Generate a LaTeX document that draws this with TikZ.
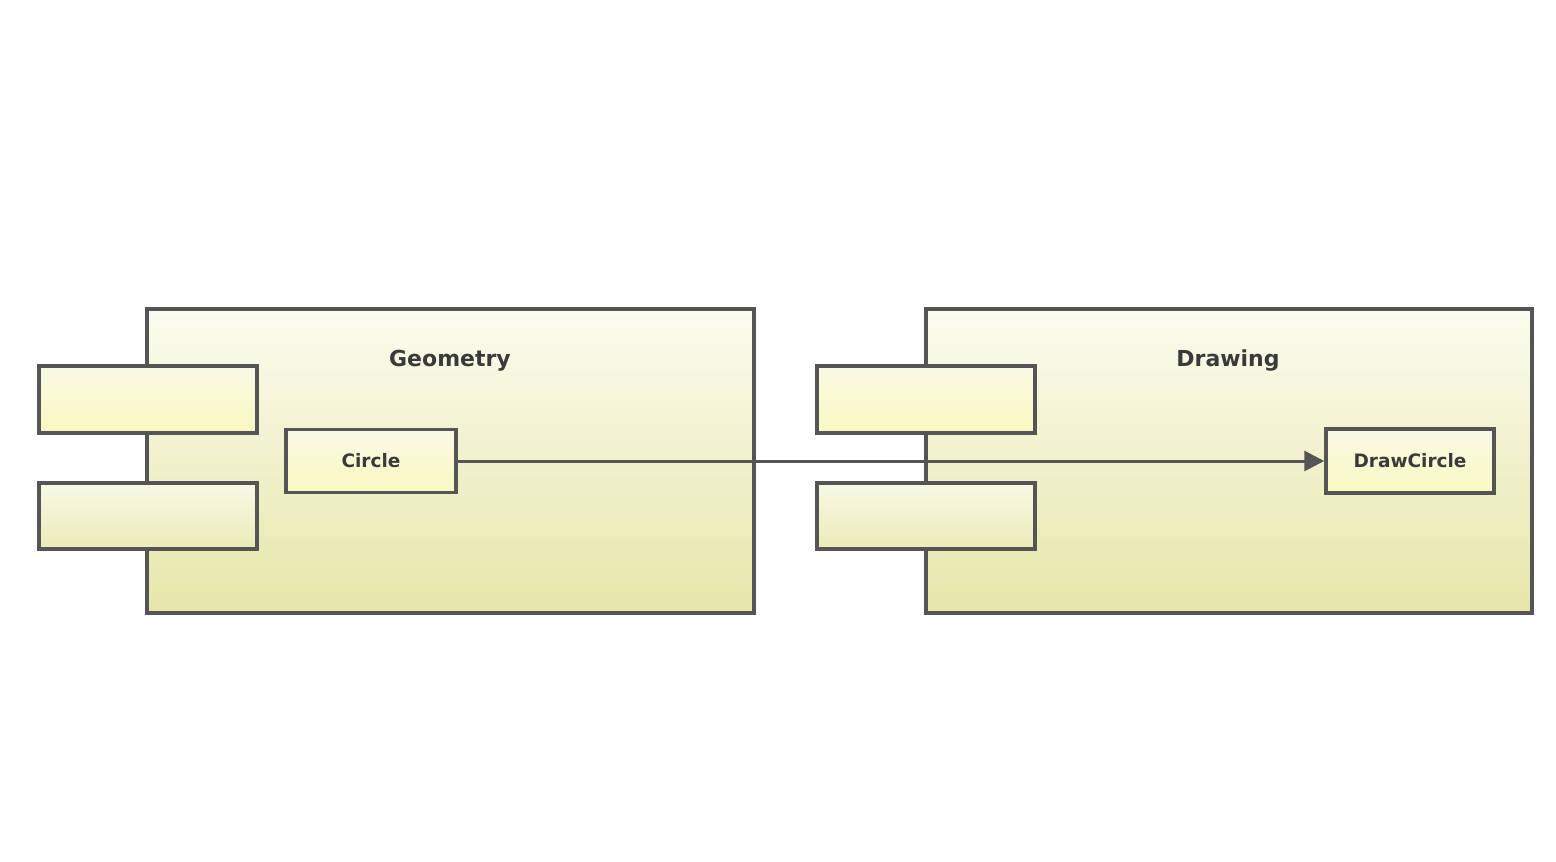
\documentclass[tikz,border=0pt]{standalone}
\usepackage{fontspec}
\setmainfont{DejaVu Sans}
\usetikzlibrary{arrows.meta}
\definecolor{edge}{HTML}{555555}
\definecolor{txt}{HTML}{3A3A3A}
\definecolor{bigtop}{HTML}{FBFCEE}
\definecolor{bigmid}{HTML}{F6F6D6}
\definecolor{bigbot}{HTML}{E6E6AA}
\definecolor{tabtop}{HTML}{F8F9E6}
\definecolor{tabbot}{HTML}{FAF8C0}
\definecolor{tab2bot}{HTML}{EBEBB8}
\tikzset{
  comp/.style={draw=edge, line width=3.5pt, top color=bigtop, middle color=bigmid, bottom color=bigbot},
  tabbox/.style={draw=edge, line width=3.5pt, top color=tabtop, bottom color=tabbot},
  tabboxb/.style={draw=edge, line width=3.5pt, top color=tabtop, bottom color=tab2bot},
  inner/.style={draw=edge, line width=3.5pt, top color=tabtop, bottom color=tabbot,
    text=txt, font=\bfseries\fontsize{18.5}{22}\selectfont, inner sep=0pt},
  title/.style={text=txt, font=\bfseries\fontsize{22}{26}\selectfont},
  conn/.style={draw=edge, line width=3pt, -{Triangle[length=20pt,width=20pt]}}
}
\begin{document}
\begin{tikzpicture}[x=1pt,y=-1pt]
\useasboundingbox (0,0) rectangle (1556,862);
% Geometry component
\path[comp] (147,309) rectangle (754,613);
\path[tabbox] (39,366) rectangle (257,433);
\path[tabboxb] (39,483) rectangle (257,549);
\node[title] (geo) at (450,361) {Geometry};
\node[inner, minimum width=170pt, minimum height=63pt] (circle) at (371,461) {Circle};
% Drawing component
\path[comp] (926,309) rectangle (1532,613);
\path[tabbox] (817,366) rectangle (1035,433);
\path[tabboxb] (817,483) rectangle (1035,549);
\node[title] (draw) at (1228,361) {Drawing};
\node[inner, minimum width=168pt, minimum height=64pt] (drawcircle) at (1410,461) {DrawCircle};
% connector
\draw[conn] (circle.east) -- (drawcircle.west);
\end{tikzpicture}
\end{document}
